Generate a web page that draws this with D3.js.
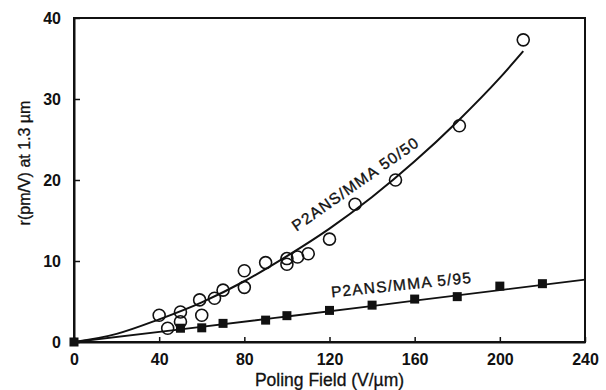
<!DOCTYPE html>
<html>
<head>
<meta charset="utf-8">
<script src="https://cdn.jsdelivr.net/npm/d3@7"></script>
<style>
  html, body { margin: 0; padding: 0; background: #fff; }
  svg { display: block; }
  text { font-family: "Liberation Sans", Arial, Helvetica, sans-serif; fill: #111; }
</style>
</head>
<body>
<svg id="chart" width="606" height="390"></svg>
<script>
// ---- data ----
const xTicks = [0, 40, 80, 120, 160, 200, 240];
const yTicks = [0, 10, 20, 30, 40];

// P2ANS/MMA 50/50 (open circles)
const circleX = [40, 44, 50, 50, 59, 60, 66, 70, 80, 80, 90, 100, 100, 105, 110, 120, 132, 151, 181, 211];
const circleY = [3.3, 1.7, 3.7, 2.5, 5.2, 3.3, 5.4, 6.4, 8.8, 6.75, 9.8, 10.3, 9.6, 10.5, 10.9, 12.7, 17.0, 20.0, 26.7, 37.3];

// P2ANS/MMA 5/95 (filled squares)
const squareX = [0, 50, 60, 70, 90, 100, 120, 140, 160, 180, 200, 220];
const squareY = [0, 1.7, 1.75, 2.3, 2.7, 3.25, 3.9, 4.55, 5.3, 5.6, 6.9, 7.2];

// fitted curves as drawn in the reference
const fit50X = [0, 20, 40, 60, 80, 100, 120, 140, 160, 180, 200, 211];
const fit50Y = [0, 1.0, 2.8, 4.9, 7.5, 10.6, 14.0, 17.9, 22.3, 27.2, 32.6, 35.9];
const fit5X = [0, 50, 100, 160, 240];
const fit5Y = [0, 1.55, 3.15, 5.1, 7.7];

const labels = ["P2ANS/MMA 50/50", "P2ANS/MMA 5/95"];
const labelX = [104.5, 121];
const labelY = [13.6, 5.5];
const labelAngle = [-35, -6];

const xTitle = "Poling Field (V/\u00b5m)";
const yTitle = "r(pm/V) at 1.3 \u00b5m";

// ---- layout ----
const svg = d3.select("#chart");
const L = 74, R = 585, T = 18, B = 342;
const x = d3.scaleLinear().domain([0, 240]).range([L, R]);
const y = d3.scaleLinear().domain([0, 40]).range([B, T]);

// frame
svg.append("rect").attr("x", L).attr("y", T).attr("width", R - L).attr("height", B - T)
  .attr("fill", "none").attr("stroke", "#111").attr("stroke-width", 2);

// axes (ticks inward)
const xAxis = d3.axisBottom(x).tickValues(xTicks).tickSizeInner(-5).tickSizeOuter(0).tickPadding(12);
const gx = svg.append("g").attr("transform", `translate(0,${B})`).call(xAxis);
gx.select(".domain").attr("stroke", "#111").attr("stroke-width", 2);
gx.selectAll(".tick line").attr("stroke", "#111").attr("stroke-width", 1.5);
gx.selectAll(".tick text").attr("font-size", 16).attr("font-weight", "bold")
  .attr("font-family", "Liberation Sans, Arial, sans-serif").attr("fill", "#111");

const yAxis = d3.axisLeft(y).tickValues(yTicks).tickSizeInner(-6).tickSizeOuter(0).tickPadding(13);
const gy = svg.append("g").attr("transform", `translate(${L},0)`).call(yAxis);
gy.select(".domain").attr("stroke", "#111").attr("stroke-width", 2);
gy.selectAll(".tick line").attr("stroke", "#111").attr("stroke-width", 1.5);
gy.selectAll(".tick text").attr("font-size", 16).attr("font-weight", "bold")
  .attr("font-family", "Liberation Sans, Arial, sans-serif").attr("fill", "#111");

// curves
const line = d3.line().x(d => x(d[0])).y(d => y(d[1])).curve(d3.curveMonotoneX);
svg.append("path").datum(fit50X.map((v, i) => [v, fit50Y[i]]))
  .attr("d", line).attr("fill", "none").attr("stroke", "#111").attr("stroke-width", 2);
svg.append("path").datum(fit5X.map((v, i) => [v, fit5Y[i]]))
  .attr("d", line).attr("fill", "none").attr("stroke", "#111").attr("stroke-width", 1.8);

// markers
svg.append("g").selectAll("circle").data(circleX.map((v, i) => [v, circleY[i]])).join("circle")
  .attr("cx", d => x(d[0])).attr("cy", d => y(d[1])).attr("r", 6)
  .attr("fill", "none").attr("stroke", "#111").attr("stroke-width", 1.6);

const s = 9;
svg.append("g").selectAll("rect").data(squareX.map((v, i) => [v, squareY[i]])).join("rect")
  .attr("x", d => x(d[0]) - s / 2).attr("y", d => y(d[1]) - s / 2)
  .attr("width", s).attr("height", s).attr("fill", "#111");

// series labels
labels.forEach((t, i) => {
  svg.append("text")
    .attr("transform", `translate(${x(labelX[i])},${y(labelY[i])}) rotate(${labelAngle[i]})`)
    .attr("font-size", 15.5).attr("letter-spacing", 1.2)
    .attr("stroke", "#111").attr("stroke-width", 0.35).text(t);
});

// axis titles
svg.append("text").attr("x", (L + R) / 2).attr("y", 386).attr("text-anchor", "middle")
  .attr("font-size", 17.5).attr("stroke", "#111").attr("stroke-width", 0.3).text(xTitle);
svg.append("text").attr("transform", `translate(29.5,${163}) rotate(-90)`).attr("text-anchor", "middle")
  .attr("font-size", 16).attr("stroke", "#111").attr("stroke-width", 0.3).text(yTitle);
</script>
</body>
</html>
